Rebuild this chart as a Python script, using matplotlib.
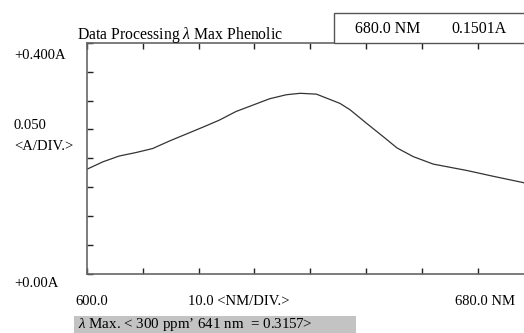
import matplotlib
matplotlib.use("Agg")
import matplotlib.pyplot as plt
from matplotlib.patches import Rectangle

# Data
wavelength_nm = [600, 602.9, 605.8, 608.8, 611.8, 614.8, 617.8, 620.8, 623.7, 626.7,
                 629.7, 632.7, 635.7, 638.2, 641.1, 645.3, 647.1, 650.0, 653.1,
                 655.5, 658.4, 662.0, 668.0, 672.7, 678.1, 680]
absorbance = [0.181, 0.194, 0.204, 0.210, 0.217, 0.230, 0.242, 0.254, 0.266, 0.281,
              0.292, 0.303, 0.310, 0.3125, 0.311, 0.295, 0.284, 0.261, 0.237,
              0.218, 0.203, 0.190, 0.179, 0.169, 0.158, 0.1501]
x_ticks = [600, 610, 620, 630, 640, 650, 660, 670, 680]
y_ticks = [0.0, 0.05, 0.10, 0.15, 0.20, 0.25, 0.30, 0.35, 0.40]

W, H = 524, 333
FONT = "Liberation Serif"
FS = 10.5

plt.rcParams["mathtext.fontset"] = "custom"
plt.rcParams["mathtext.rm"] = "Liberation Serif"
plt.rcParams["mathtext.it"] = "Liberation Serif:italic"

fig = plt.figure(figsize=(W / 100, H / 100), dpi=100)

def fx(x):
    return x / W

def fy(y):
    return 1 - y / H

ax_left, ax_right, ax_top, ax_bottom = 86.7, 534.0, 42.7, 274.0
ax = fig.add_axes([fx(ax_left), fy(ax_bottom), (ax_right - ax_left) / W, (ax_bottom - ax_top) / H])
ax.plot(wavelength_nm, absorbance, color="#333333", lw=0.9)
ax.set_xlim(600, 680)
ax.set_ylim(0, 0.4)
ax.set_xticks(x_ticks)
ax.set_yticks(y_ticks)
ax.tick_params(axis="both", direction="in", length=4, width=1, color="#222222",
               labelleft=False, labelbottom=False, top=True)
for s in ["left", "bottom", "top"]:
    ax.spines[s].set_color("#666666")
    ax.spines[s].set_linewidth(1.2)
ax.spines["right"].set_visible(False)

# Top-right readout box
fig.patches.append(Rectangle((fx(334.3), fy(42.7)), 0.5, (42.7 - 13.3) / H,
                             transform=fig.transFigure, facecolor="white",
                             edgecolor="#555555", lw=1.0, zorder=3))
# Bottom gray status box
fig.patches.append(Rectangle((fx(74), fy(340)), (356 - 74) / W, (340 - 316) / H,
                             transform=fig.transFigure, facecolor="#c3c3c3",
                             edgecolor="none", zorder=1))

def t(x, y, s, fs=FS):
    fig.text(fx(x), fy(y), s, fontsize=fs, family=FONT, va="baseline", ha="left",
             color="black", zorder=5)

t(77.3, 39.3, "Data Processing $\\lambda$ Max Phenolic", 11.3)
t(355, 33.3, "680.0 NM", 11.4)
t(451.7, 33.3, "0.1501A", 11.4)
t(14, 59, "+0.400A")
t(14, 129, "0.050")
t(14, 150, "<A/DIV.>")
t(14, 287.3, "+0.00A")
t(75, 305, "600.0")
t(187.7, 305, "10.0 <NM/DIV.>")
t(455, 305, "680.0 NM")
t(78, 328.3, "$\\lambda$ Max. < 300 ppm’ 641 nm  = 0.3157>", 10.8)

fig.savefig("out.png", dpi=100)
